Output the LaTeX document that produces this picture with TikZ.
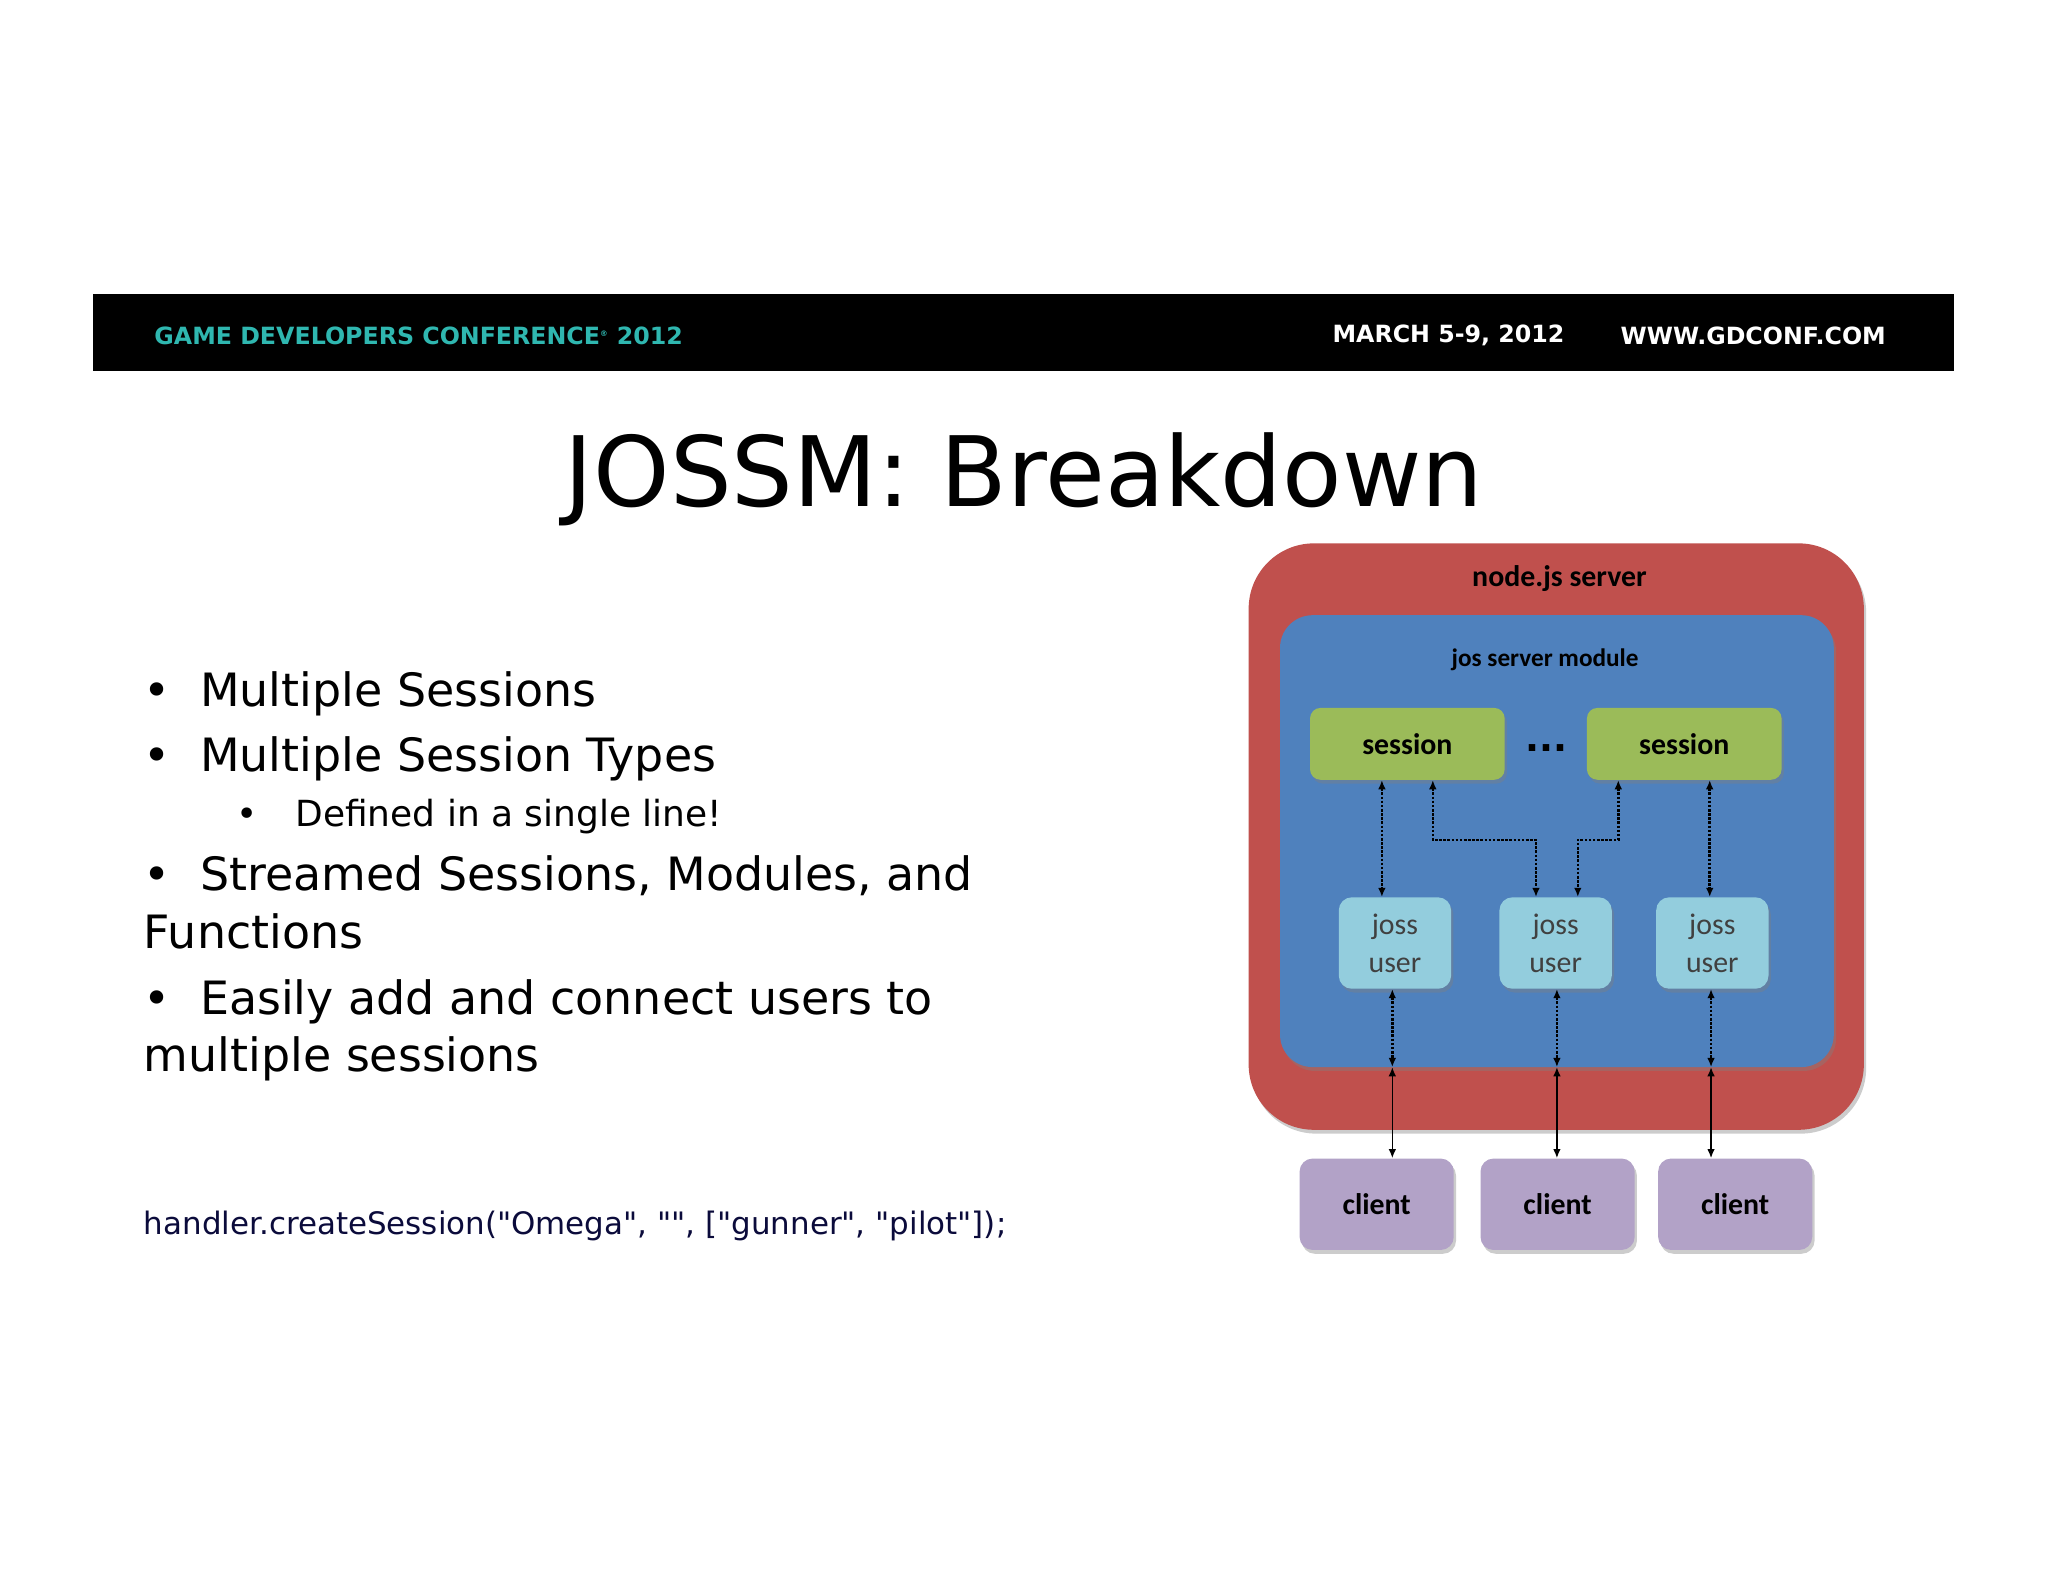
\documentclass[tikz,border=0pt]{standalone}
\usepackage{fontspec}
\setmainfont{DejaVu Sans}
\newfontfamily\calfont{Carlito}
\newfontfamily\codefont{DejaVu Sans}[Ligatures=ResetAll]
\usetikzlibrary{shadows,arrows.meta}
\definecolor{redb}{HTML}{C0504D}
\definecolor{blueb}{HTML}{4F81BD}
\definecolor{greenb}{HTML}{9BBB59}
\definecolor{userb}{HTML}{93CDDD}
\definecolor{clientb}{HTML}{B2A2C7}
\definecolor{gdcteal}{HTML}{2FB7B0}
\definecolor{navy}{HTML}{0B0B3B}
\begin{document}
\begin{tikzpicture}[x=0.3mm,y=-0.3mm,
  box/.style={drop shadow={shadow xshift=1.5pt,shadow yshift=-2.5pt,opacity=0.4}, inner sep=0},
  lbl/.style={font=\calfont\bfseries\fontsize{19.5}{22}\selectfont},
  ulbl/.style={font=\calfont\fontsize{19.5}{25}\selectfont, align=center, text=black!75},
  dotar/.style={densely dotted, line width=1.7pt, {Latex[length=6pt,width=5pt]}-{Latex[length=6pt,width=5pt]}},
  solar/.style={line width=1.1pt, {Latex[length=6pt,width=5pt]}-{Latex[length=6pt,width=5pt]}}]
\def\u{0.3mm}
\useasboundingbox (0,0) rectangle (1568,1211);
\fill[white] (0,0) rectangle (1568,1211);
% banner
\fill[black] (71,225) rectangle (1496,284);
\tikzset{ban/.style={inner sep=0, font=\bfseries\fontsize{15.5}{18}\selectfont}}
\node[ban, anchor=west, text=gdcteal] (gdc) at (118,257) {GAME DEVELOPERS CONFERENCE\textsuperscript{\tiny®} 2012};
\node[ban, anchor=west, text=white] (date) at (1020,257) {MARCH 5-9, 2012};
\node[ban, anchor=east, text=white] (www) at (1444,257) {WWW.GDCONF.COM};
% title
\node[anchor=base, font=\fontsize{63.5}{70}\selectfont] (title) at (784,388) {JOSSM: Breakdown};
% bullets
\tikzset{bt/.style={inner sep=0, anchor=base west, font=\fontsize{30}{36}\selectfont},
         bs/.style={inner sep=0, anchor=base west, font=\fontsize{23.5}{28}\selectfont}}
\node[bt] (b1d) at (110,541) {•};
\node[bt] (b1) at (153,541) {Multiple Sessions};
\node[bt] (b2d) at (110,591) {•};
\node[bt] (b2) at (153,591) {Multiple Session Types};
\node[bs] (b3d) at (181,633) {•};
\node[bs] (b3) at (226,633) {Defined in a single line!};
\node[bt] (b4d) at (110,682) {•};
\node[bt] (b4) at (153,682) {Streamed Sessions, Modules, and};
\node[bt] (b4b) at (110,726) {Functions};
\node[bt] (b5d) at (110,777) {•};
\node[bt] (b5) at (153,777) {Easily add and connect users to};
\node[bt] (b5b) at (110,820) {multiple sessions};
\node[inner sep=0, anchor=base west, text=navy, font=\codefont\fontsize{20.2}{24}\selectfont] (code) at (110,945) {handler.createSession("Omega", "", ["gunner", "pilot"]);};
% diagram
\node[box, fill=redb, rounded corners=50*\u, minimum width=471*\u, minimum height=449*\u] (srv) at (1191.5,640.5) {};
\node[lbl] (srvl) at (1194,443) {node.js server};
\node[box, fill=blueb, rounded corners=25*\u, minimum width=424*\u, minimum height=346*\u] (mod) at (1192,644) {};
\node[font=\calfont\bfseries\fontsize{16.5}{20}\selectfont] (modl) at (1183,505) {jos server module};
\tikzset{sess/.style={box, fill=greenb, rounded corners=8*\u, minimum width=149*\u, minimum height=55*\u, lbl},
 usr/.style={box, fill=userb, rounded corners=10*\u, minimum width=86*\u, minimum height=70*\u, ulbl},
 cli/.style={box, fill=clientb, rounded corners=10*\u, minimum width=118*\u, minimum height=70*\u, lbl}}
\node[sess] (s1) at (1077.5,569.5) {session};
\node[sess] (s2) at (1289.5,569.5) {session};
\node[font=\bfseries\fontsize{24}{24}\selectfont] (dots) at (1184,573) {...};
\node[usr] (u1) at (1068,722) {joss\\user};
\node[usr] (u2) at (1191,722) {joss\\user};
\node[usr] (u3) at (1311,722) {joss\\user};
\node[cli] (c1) at (1054,922) {client};
\node[cli] (c2) at (1192.5,922) {client};
\node[cli] (c3) at (1328.5,922) {client};
\coordinate (m1) at (1066,817);
\coordinate (m2) at (1192,817);
\coordinate (m3) at (1310,817);
\draw[dotar] (s1.south -| 1058,0) -- (u1.north -| 1058,0);
\draw[dotar] (s1.south -| 1097,0) -- (1097,643) -- (1176,643) -- (u2.north -| 1176,0);
\draw[dotar] (s2.south -| 1239,0) -- (1239,643) -- (1208,643) -- (u2.north -| 1208,0);
\draw[dotar] (s2.south -| 1309,0) -- (u3.north -| 1309,0);
\draw[dotar] (u1.south -| m1) -- (m1);
\draw[dotar] (u2.south -| m2) -- (m2);
\draw[dotar] (u3.south -| m3) -- (m3);
\draw[solar] (m1) -- (c1.north -| m1);
\draw[solar] (m2) -- (c2.north -| m2);
\draw[solar] (m3) -- (c3.north -| m3);
\end{tikzpicture}
\end{document}
